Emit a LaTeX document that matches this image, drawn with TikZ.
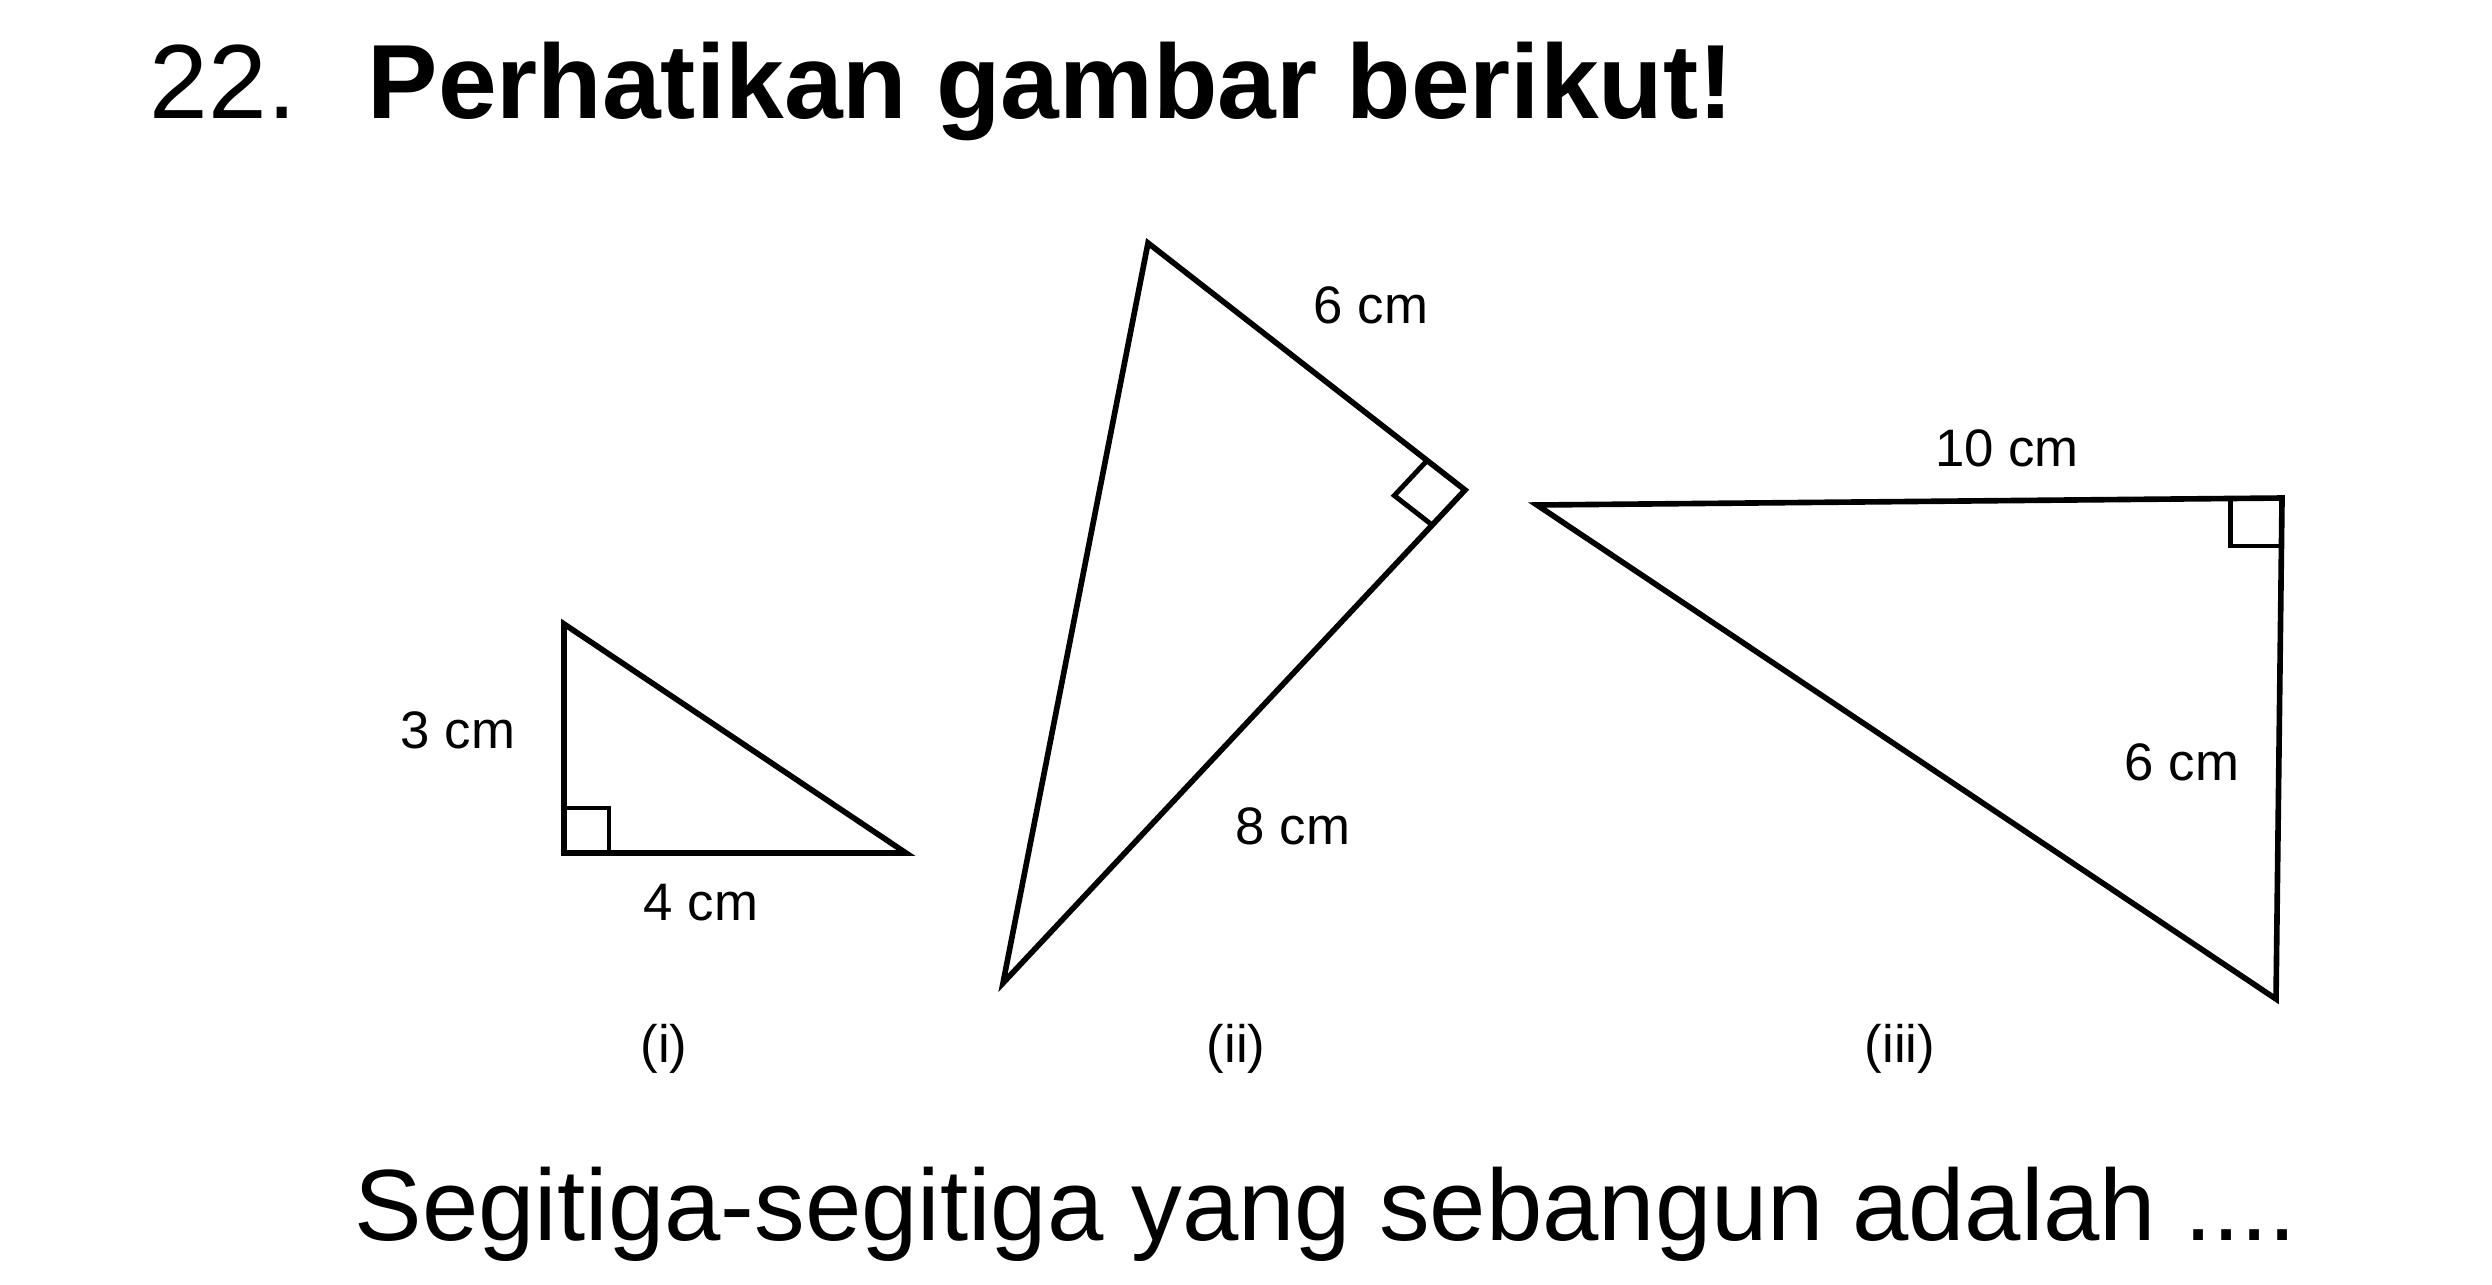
\documentclass[tikz,border=0pt]{standalone}
\usepackage{fontspec}
\setmainfont{Liberation Sans}
\usetikzlibrary{calc}
\begin{document}
\begin{tikzpicture}[x=0.01cm,y=-0.01cm,
  tri/.style={line width=1.6pt,line join=miter},
  ra/.style={line width=1.4pt},
  lbl/.style={font=\fontsize{15}{18}\selectfont,inner sep=0pt},
  figcap/.style={font=\fontsize{15}{18}\selectfont,inner sep=0pt}]
\useasboundingbox (0,0) rectangle (2492,1284);
% title
\node[anchor=base west,inner sep=0pt,font=\fontsize{30}{36}\selectfont] (num) at (149,118) {22.};
\node[anchor=base west,inner sep=0pt,font=\fontsize{30}{36}\selectfont\bfseries] (title) at (367,118) {Perhatikan gambar berikut!};
% triangle (i)
\coordinate (a1) at (564,624);
\coordinate (b1) at (564,853);
\coordinate (c1) at (906,853);
\draw[tri] (a1) -- (b1) -- (c1) -- cycle;
\draw[ra] ($(b1)+(0,-45)$) -- ($(b1)+(45,-45)$) -- ($(b1)+(45,0)$);
\node[lbl] (l3) at (458,730) {3 cm};
\node[lbl] (l4) at (701,903) {4 cm};
\node[figcap] (ci) at (664,1049) {(i)};
% triangle (ii)
\coordinate (t2) at (1148,243);
\coordinate (r2) at (1465,490);
\coordinate (b2) at (1003,983);
\draw[tri] (t2) -- (r2) -- (b2) -- cycle;
\coordinate (p1) at ($(r2)!0.48cm!(t2)$);
\coordinate (p2) at ($(r2)!0.48cm!(b2)$);
\draw[ra] (p1) -- ($(p1)+(p2)-(r2)$) -- (p2);
\node[lbl] (l6a) at (1371,305) {6 cm};
\node[lbl] (l8) at (1293,826) {8 cm};
\node[figcap] (cii) at (1236,1049) {(ii)};
% triangle (iii)
\coordinate (a3) at (1537,505);
\coordinate (b3) at (2282,498);
\coordinate (c3) at (2276,999);
\draw[tri] (a3) -- (b3) -- (c3) -- cycle;
\draw[ra] ($(b3)+(-52,0)$) -- ($(b3)+(-52,48)$) -- ($(b3)+(0,48)$);
\node[lbl] (l10) at (2007,448) {10 cm};
\node[lbl] (l6b) at (2182,762) {6 cm};
\node[figcap] (ciii) at (1900,1049) {(iii)};
% question
\node[anchor=base west,inner sep=0pt,font=\fontsize{28.8}{34}\selectfont] (q) at (354,1240) {Segitiga-segitiga yang sebangun adalah ....};
\end{tikzpicture}
\end{document}
